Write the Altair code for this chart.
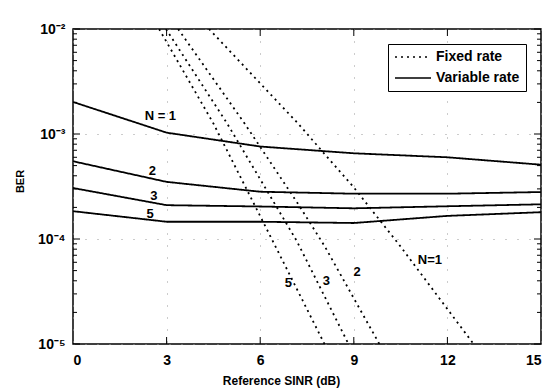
import altair as alt
import pandas as pd

# ---- data ----
snr_var = [0, 3, 6, 9, 12, 15]
var_n1 = [2.02e-3, 1.03e-3, 7.6e-4, 6.55e-4, 6.0e-4, 5.1e-4]
var_n2 = [5.5e-4, 3.5e-4, 2.82e-4, 2.7e-4, 2.7e-4, 2.8e-4]
var_n3 = [3.06e-4, 2.1e-4, 2.04e-4, 1.96e-4, 2.05e-4, 2.14e-4]
var_n5 = [1.84e-4, 1.46e-4, 1.46e-4, 1.42e-4, 1.66e-4, 1.8e-4]

fix_n1_x = [4.36, 7.2, 9.0, 10.47, 12.84]
fix_n1_y = [1e-2, 1.27e-3, 3.1e-4, 8.7e-5, 1e-5]
fix_n2_x = [3.37, 5.5, 7.24, 8.07, 9.82]
fix_n2_y = [1e-2, 1.26e-3, 2.1e-4, 8.5e-5, 1e-5]
fix_n3_x = [2.98, 4.94, 7.17, 8.83]
fix_n3_y = [1e-2, 1.26e-3, 9.6e-5, 1e-5]
fix_n5_x = [2.76, 4.5, 6.4, 8.06]
fix_n5_y = [1e-2, 1.26e-3, 9.6e-5, 1e-5]

label_text = ["N = 1", "2", "3", "5", "5", "3", "2", "N=1"]
label_x = [2.8, 2.54, 2.59, 2.47, 6.9, 8.12, 9.11, 11.44]
label_y = [1.5e-3, 4.47e-4, 2.57e-4, 1.74e-4, 3.8e-5, 3.98e-5, 4.8e-5, 6.3e-5]

x_ticks = [0, 3, 6, 9, 12, 15]
y_ticks = [1e-5, 1e-4, 1e-3, 1e-2]
y_minor = [m * d for d in [1e-5, 1e-4, 1e-3] for m in range(2, 10)]

FONT = "Liberation Sans"
NARROW = "Liberation Sans Narrow, Liberation Sans"

rows = []
for name, ys in [("v1", var_n1), ("v2", var_n2), ("v3", var_n3), ("v5", var_n5)]:
    for x, y in zip(snr_var, ys):
        rows.append({"series": name, "type": "Variable rate", "x": x, "ber": y})
for name, xs, ys in [("f1", fix_n1_x, fix_n1_y), ("f2", fix_n2_x, fix_n2_y),
                     ("f3", fix_n3_x, fix_n3_y), ("f5", fix_n5_x, fix_n5_y)]:
    for x, y in zip(xs, ys):
        rows.append({"series": name, "type": "Fixed rate", "x": x, "ber": y})
df = pd.DataFrame(rows)

xscale = alt.Scale(domain=[0, 15], nice=False, zero=False)
yscale = alt.Scale(type="log", domain=[1e-5, 1e-2], nice=False)

lines = alt.Chart(df).mark_line(color="black", strokeWidth=1.8, clip=True).encode(
    x=alt.X("x:Q", scale=xscale,
            axis=alt.Axis(values=x_ticks, title="Reference SINR (dB)", grid=True,
                          gridDash=[1, 11], gridColor="#999", gridWidth=1,
                          ticks=False, tickSize=0, domain=False,
                          labelFont=FONT, labelFontSize=14, labelFontWeight="bold",
                          labelColor="black", labelPadding=9,
                          titleFont=NARROW, titleFontSize=12, titleFontWeight="bold",
                          titleColor="black", titleX=208, titleY=36,
                          titleBaseline="middle", titleAlign="center")),
    y=alt.Y("ber:Q", scale=yscale,
            axis=alt.Axis(values=y_ticks, title="BER", grid=True,
                          gridDash=[1, 11], gridColor="#999", gridWidth=1,
                          ticks=False, tickSize=0, domain=False,
                          labelExpr="datum.value >= 0.005 ? '10⁻²' : datum.value >= 0.0005 ? '10⁻³' : datum.value >= 0.00005 ? '10⁻⁴' : '10⁻⁵'",
                          labelFont=FONT, labelFontSize=14, labelFontWeight="bold",
                          labelColor="black", labelPadding=8,
                          titleFont=NARROW, titleFontSize=11, titleFontWeight="bold",
                          titleColor="black", titleX=-53, titleY=152, titleAngle=270,
                          titleBaseline="middle", titleAlign="center")),
    strokeDash=alt.StrokeDash("type:N",
        scale=alt.Scale(domain=["Fixed rate", "Variable rate"], range=[[2, 4], [1, 0]]),
        legend=alt.Legend(title=None, orient="none", legendX=315, legendY=15,
                          strokeColor="black", fillColor="white", padding=6,
                          symbolType="M-1,0H5", symbolSize=144,
                          symbolStrokeColor="black", symbolStrokeWidth=1.5,
                          symbolFillColor="transparent",
                          labelFont=FONT, labelFontSize=14, labelFontWeight="bold",
                          labelColor="black", labelOffset=28, rowPadding=7)),
    detail="series:N",
)

labels = alt.Chart(pd.DataFrame({"x": label_x, "ber": label_y, "label": label_text})).mark_text(
    font=FONT, fontSize=13, fontWeight="bold", color="black", align="center", baseline="middle"
).encode(x=alt.X("x:Q", scale=xscale), y=alt.Y("ber:Q", scale=yscale), text="label:N")

ytick_df = pd.DataFrame({"ber": y_minor})
ymaj_df = pd.DataFrame({"ber": y_ticks})
xtick_df = pd.DataFrame({"x": x_ticks[1:-1]})

yl = alt.Chart(ytick_df).mark_rule(color="black", strokeWidth=1).encode(
    y=alt.Y("ber:Q", scale=yscale), x=alt.value(0), x2=alt.value(4))
yr = alt.Chart(ytick_df).mark_rule(color="black", strokeWidth=1).encode(
    y=alt.Y("ber:Q", scale=yscale), x=alt.value(468), x2=alt.value(464))
ylm = alt.Chart(ymaj_df).mark_rule(color="black", strokeWidth=1).encode(
    y=alt.Y("ber:Q", scale=yscale), x=alt.value(0), x2=alt.value(7))
yrm = alt.Chart(ymaj_df).mark_rule(color="black", strokeWidth=1).encode(
    y=alt.Y("ber:Q", scale=yscale), x=alt.value(468), x2=alt.value(461))
xb = alt.Chart(xtick_df).mark_rule(color="black", strokeWidth=1).encode(
    x=alt.X("x:Q", scale=xscale), y=alt.value(315), y2=alt.value(308))
xt = alt.Chart(xtick_df).mark_rule(color="black", strokeWidth=1).encode(
    x=alt.X("x:Q", scale=xscale), y=alt.value(0), y2=alt.value(7))

chart = alt.layer(lines, labels, yl, yr, ylm, yrm, xb, xt).properties(
    width=468, height=315,
    autosize=alt.AutoSizeParams(type="none"),
    padding={"left": 73, "top": 29, "right": 6, "bottom": 48},
    background="white",
).configure_view(stroke="black", strokeWidth=1.5)

chart.save("out.html", embed_options={"renderer": "svg", "actions": False})
